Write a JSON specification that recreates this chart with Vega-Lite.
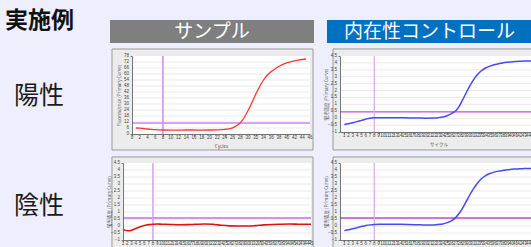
{
  "$schema": "https://vega.github.io/schema/vega-lite/v6.json",
  "background": "#eeeefc",
  "padding": 0,
  "columns": 3,
  "align": "none",
  "bounds": "flush",
  "spacing": 0,
  "datasets": {
    "tl": [
      {"cycle": 1, "value": 6.0}, {"cycle": 2, "value": 5.8}, {"cycle": 3, "value": 5.5}, {"cycle": 4, "value": 5.0},
      {"cycle": 5, "value": 4.6}, {"cycle": 6, "value": 4.3}, {"cycle": 7, "value": 4.1}, {"cycle": 8, "value": 4.0},
      {"cycle": 10, "value": 3.9}, {"cycle": 12, "value": 3.9}, {"cycle": 14, "value": 4.0}, {"cycle": 16, "value": 4.0},
      {"cycle": 18, "value": 3.9}, {"cycle": 20, "value": 4.0}, {"cycle": 22, "value": 4.2}, {"cycle": 24, "value": 4.7},
      {"cycle": 25, "value": 5.2}, {"cycle": 26, "value": 6.2}, {"cycle": 27, "value": 8.2}, {"cycle": 28, "value": 11.3},
      {"cycle": 29, "value": 16.5}, {"cycle": 30, "value": 23.5}, {"cycle": 31, "value": 31.5}, {"cycle": 32, "value": 40.0},
      {"cycle": 33, "value": 47.5}, {"cycle": 34, "value": 54.0}, {"cycle": 35, "value": 59.0}, {"cycle": 36, "value": 62.5},
      {"cycle": 37, "value": 65.3}, {"cycle": 38, "value": 67.8}, {"cycle": 39, "value": 69.7}, {"cycle": 40, "value": 71.1},
      {"cycle": 41, "value": 72.2}, {"cycle": 42, "value": 73.1}, {"cycle": 43, "value": 73.9}, {"cycle": 44, "value": 74.5},
      {"cycle": 45, "value": 75.0}
    ],
    "tr": [
      {"cycle": 1, "value": -0.45}, {"cycle": 2, "value": -0.40}, {"cycle": 3, "value": -0.33}, {"cycle": 4, "value": -0.25},
      {"cycle": 5, "value": -0.16}, {"cycle": 6, "value": -0.07}, {"cycle": 7, "value": 0.0}, {"cycle": 8, "value": 0.03},
      {"cycle": 9, "value": 0.04}, {"cycle": 10, "value": 0.04}, {"cycle": 12, "value": 0.03}, {"cycle": 14, "value": 0.03},
      {"cycle": 16, "value": 0.02}, {"cycle": 18, "value": 0.01}, {"cycle": 20, "value": 0.0}, {"cycle": 22, "value": 0.01},
      {"cycle": 23, "value": 0.04}, {"cycle": 24, "value": 0.09}, {"cycle": 25, "value": 0.18}, {"cycle": 26, "value": 0.33},
      {"cycle": 27, "value": 0.52}, {"cycle": 28, "value": 0.95}, {"cycle": 29, "value": 1.55}, {"cycle": 30, "value": 2.15},
      {"cycle": 31, "value": 2.70}, {"cycle": 32, "value": 3.12}, {"cycle": 33, "value": 3.43}, {"cycle": 34, "value": 3.63},
      {"cycle": 35, "value": 3.77}, {"cycle": 36, "value": 3.87}, {"cycle": 37, "value": 3.94}, {"cycle": 38, "value": 4.0},
      {"cycle": 39, "value": 4.04}, {"cycle": 40, "value": 4.07}, {"cycle": 41, "value": 4.10}, {"cycle": 42, "value": 4.12},
      {"cycle": 43, "value": 4.13}, {"cycle": 44, "value": 4.14}, {"cycle": 45, "value": 4.15}
    ],
    "bl": [
      {"cycle": 1, "value": -0.24}, {"cycle": 2, "value": -0.34}, {"cycle": 3, "value": -0.30}, {"cycle": 4, "value": -0.18},
      {"cycle": 5, "value": -0.05}, {"cycle": 6, "value": 0.04}, {"cycle": 7, "value": 0.10}, {"cycle": 8, "value": 0.13},
      {"cycle": 9, "value": 0.14}, {"cycle": 10, "value": 0.13}, {"cycle": 12, "value": 0.11}, {"cycle": 14, "value": 0.09},
      {"cycle": 16, "value": 0.10}, {"cycle": 18, "value": 0.12}, {"cycle": 20, "value": 0.14}, {"cycle": 22, "value": 0.12},
      {"cycle": 24, "value": 0.05}, {"cycle": 26, "value": 0.01}, {"cycle": 28, "value": 0.0}, {"cycle": 30, "value": 0.0},
      {"cycle": 32, "value": 0.03}, {"cycle": 34, "value": 0.08}, {"cycle": 36, "value": 0.11}, {"cycle": 38, "value": 0.13},
      {"cycle": 40, "value": 0.14}, {"cycle": 42, "value": 0.13}, {"cycle": 44, "value": 0.12}, {"cycle": 45, "value": 0.12}
    ],
    "br": [
      {"cycle": 1, "value": -0.33}, {"cycle": 2, "value": -0.27}, {"cycle": 3, "value": -0.20}, {"cycle": 4, "value": -0.12},
      {"cycle": 5, "value": -0.04}, {"cycle": 6, "value": 0.03}, {"cycle": 7, "value": 0.08}, {"cycle": 8, "value": 0.11},
      {"cycle": 9, "value": 0.12}, {"cycle": 10, "value": 0.12}, {"cycle": 12, "value": 0.12}, {"cycle": 14, "value": 0.12},
      {"cycle": 16, "value": 0.11}, {"cycle": 18, "value": 0.09}, {"cycle": 20, "value": 0.07}, {"cycle": 22, "value": 0.08},
      {"cycle": 23, "value": 0.11}, {"cycle": 24, "value": 0.15}, {"cycle": 25, "value": 0.24}, {"cycle": 26, "value": 0.37},
      {"cycle": 27, "value": 0.60}, {"cycle": 28, "value": 0.98}, {"cycle": 29, "value": 1.48}, {"cycle": 30, "value": 2.05},
      {"cycle": 31, "value": 2.58}, {"cycle": 32, "value": 3.02}, {"cycle": 33, "value": 3.37}, {"cycle": 34, "value": 3.60},
      {"cycle": 35, "value": 3.75}, {"cycle": 36, "value": 3.85}, {"cycle": 37, "value": 3.92}, {"cycle": 38, "value": 3.97},
      {"cycle": 39, "value": 4.01}, {"cycle": 40, "value": 4.05}, {"cycle": 41, "value": 4.07}, {"cycle": 42, "value": 4.09},
      {"cycle": 43, "value": 4.10}, {"cycle": 44, "value": 4.11}, {"cycle": 45, "value": 4.12}
    ],
    "gridA": [{"g": 6}, {"g": 12}, {"g": 18}, {"g": 24}, {"g": 30}, {"g": 36}, {"g": 42}, {"g": 48}, {"g": 54}, {"g": 60}, {"g": 66}, {"g": 72}],
    "gridB": [{"g": -0.5}, {"g": 0}, {"g": 0.5}, {"g": 1}, {"g": 1.5}, {"g": 2}, {"g": 2.5}, {"g": 3}, {"g": 3.5}, {"g": 4}],
    "xTicksTL": [{"v": 0}, {"v": 2}, {"v": 4}, {"v": 6}, {"v": 8}, {"v": 10}, {"v": 12}, {"v": 14}, {"v": 16}, {"v": 18}, {"v": 20}, {"v": 22}, {"v": 24}, {"v": 26}, {"v": 28}, {"v": 30}, {"v": 32}, {"v": 34}, {"v": 36}, {"v": 38}, {"v": 40}, {"v": 42}, {"v": 44}, {"v": 46}],
    "xTicksAll": [{"v": 1}, {"v": 2}, {"v": 3}, {"v": 4}, {"v": 5}, {"v": 6}, {"v": 7}, {"v": 8}, {"v": 9}, {"v": 10}, {"v": 11}, {"v": 12}, {"v": 13}, {"v": 14}, {"v": 15}, {"v": 16}, {"v": 17}, {"v": 18}, {"v": 19}, {"v": 20}, {"v": 21}, {"v": 22}, {"v": 23}, {"v": 24}, {"v": 25}, {"v": 26}, {"v": 27}, {"v": 28}, {"v": 29}, {"v": 30}, {"v": 31}, {"v": 32}, {"v": 33}, {"v": 34}, {"v": 35}, {"v": 36}, {"v": 37}, {"v": 38}, {"v": 39}, {"v": 40}, {"v": 41}, {"v": 42}, {"v": 43}, {"v": 44}, {"v": 45}],
    "yTicksTL": [{"v": 0}, {"v": 6}, {"v": 12}, {"v": 18}, {"v": 24}, {"v": 30}, {"v": 36}, {"v": 42}, {"v": 48}, {"v": 54}, {"v": 60}, {"v": 66}, {"v": 72}, {"v": 78}],
    "yTicksB": [{"v": -1}, {"v": -0.5}, {"v": 0}, {"v": 0.5}, {"v": 1}, {"v": 1.5}, {"v": 2}, {"v": 2.5}, {"v": 3}, {"v": 3.5}, {"v": 4}, {"v": 4.5}]
  },
  "concat": [
    {"width": 79, "height": 20, "data": {"values": [{"t": "実施例"}]}, "mark": {"type": "text", "fontSize": 23, "fontWeight": "bold", "color": "#111111", "baseline": "top"}, "encoding": {"text": {"field": "t"}}},
    {"width": 1, "height": 20, "data": {"values": []}, "mark": {"type": "point", "opacity": 0}},
    {"width": 1, "height": 20, "data": {"values": []}, "mark": {"type": "point", "opacity": 0}},

    {"width": 110, "height": 1, "data": {"values": []}, "mark": {"type": "point", "opacity": 0}},
    {"width": 204, "height": 23, "view": {"fill": "#7f7f7f", "stroke": null}, "data": {"values": [{"t": "サンプル"}]}, "mark": {"type": "text", "fontSize": 19, "color": "#ffffff"}, "encoding": {"text": {"field": "t"}}},
    {"width": 205, "height": 23, "view": {"fill": "#0070c0", "stroke": null}, "data": {"values": [{"t": "内在性コントロール"}]}, "mark": {"type": "text", "fontSize": 19, "color": "#ffffff"}, "encoding": {"text": {"field": "t"}}},

    {"width": 1, "height": 13, "data": {"values": []}, "mark": {"type": "point", "opacity": 0}},
    {"width": 217, "height": 13, "data": {"values": []}, "mark": {"type": "point", "opacity": 0}},
    {"width": 1, "height": 13, "data": {"values": []}, "mark": {"type": "point", "opacity": 0}},

    {"width": 78, "height": 80, "data": {"values": [{"t": "陽性"}]}, "mark": {"type": "text", "fontSize": 25, "color": "#1a1a1a"}, "encoding": {"text": {"field": "t"}}},
    {
      "width": 217, "height": 78,
      "layer": [
        {"data": {"values": [{}]}, "mark": {"type": "rect", "fill": "#ececec", "stroke": "#9a9a9a", "strokeWidth": 1, "clip": false},
         "encoding": {
           "x": {"datum": -5.17, "type": "quantitative", "scale": {"domain": [0, 46], "range": [22, 200], "nice": false, "zero": false},
                 "axis": {"values": [0,2,4,6,8,10,12,14,16,18,20,22,24,26,28,30,32,34,36,38,40,42,44,46], "labels": false, "title": "Cycles", "titlePadding": 7, "zindex": 1, "grid": false}},
           "x2": {"datum": 46.78},
           "y": {"datum": 85, "type": "quantitative", "scale": {"domain": [0, 78], "nice": false, "zero": false},
                 "axis": {"values": [0,3,6,9,12,15,18,21,24,27,30,33,36,39,42,45,48,51,54,57,60,63,66,69,72,75,78], "labels": false, "title": "Fluorescence (Primary Curve)", "titlePadding": 8, "offset": -22, "zindex": 1, "grid": false}},
           "y2": {"datum": -16}}},
        {"data": {"values": [{}]}, "mark": {"type": "rect", "fill": "#ffffff"},
         "encoding": {"x": {"datum": 0, "type": "quantitative"}, "x2": {"datum": 46}, "y": {"datum": 0, "type": "quantitative"}, "y2": {"datum": 78}}},
        {"data": {"name": "gridA"}, "mark": {"type": "rule", "color": "#e4e4e4", "strokeWidth": 0.8}, "encoding": {"x": {"datum": 0, "type": "quantitative"}, "x2": {"datum": 46}, "y": {"field": "g", "type": "quantitative"}}},
        {"data": {"name": "xTicksTL"}, "mark": {"type": "text", "fontSize": 4.5, "color": "#444444", "font": "Liberation Sans", "clip": false, "baseline": "middle", "align": "center"},
         "encoding": {"x": {"field": "v", "type": "quantitative"}, "y": {"datum": -4, "type": "quantitative"}, "text": {"field": "v", "type": "quantitative", "format": "~g"}}},
        {"data": {"name": "yTicksTL"}, "mark": {"type": "text", "fontSize": 4.5, "color": "#444444", "font": "Liberation Sans", "clip": false, "baseline": "middle", "align": "right"},
         "encoding": {"x": {"datum": -0.8, "type": "quantitative"}, "y": {"field": "v", "type": "quantitative"}, "text": {"field": "v", "type": "quantitative", "format": "~g"}}},
        {"data": {"values": [{}]}, "mark": {"type": "rule", "color": "#d8a4f2", "strokeWidth": 2}, "encoding": {"x": {"datum": 0, "type": "quantitative"}, "x2": {"datum": 46}, "y": {"datum": 11, "type": "quantitative"}}},
        {"data": {"values": [{}]}, "mark": {"type": "rule", "color": "#cc8cec", "strokeWidth": 1.5}, "encoding": {"x": {"datum": 8, "type": "quantitative"}}},
        {"data": {"name": "tl"}, "mark": {"type": "line", "color": "#ff3535", "strokeWidth": 1.3, "interpolate": "monotone"},
         "encoding": {"x": {"field": "cycle", "type": "quantitative"}, "y": {"field": "value", "type": "quantitative"}}}
      ]
    },
    {
      "width": 210, "height": 76,
      "layer": [
        {"data": {"values": [{}]}, "mark": {"type": "rect", "fill": "#ececec", "stroke": "#9a9a9a", "strokeWidth": 1, "clip": false},
         "encoding": {
           "x": {"datum": -1.63, "type": "quantitative", "scale": {"domain": [0, 46], "range": [13, 210], "nice": false, "zero": false},
                 "axis": {"values": [1,2,3,4,5,6,7,8,9,10,11,12,13,14,15,16,17,18,19,20,21,22,23,24,25,26,27,28,29,30,31,32,33,34,35,36,37,38,39,40,41,42,43,44,45,46], "labels": false, "title": "サイクル", "titlePadding": 7, "zindex": 1, "grid": false}},
           "x2": {"datum": 47.9},
           "y": {"datum": 5.01, "type": "quantitative", "scale": {"domain": [-1, 4.5], "nice": false, "zero": false},
                 "axis": {"values": [-1,-0.75,-0.5,-0.25,0,0.25,0.5,0.75,1,1.25,1.5,1.75,2,2.25,2.5,2.75,3,3.25,3.5,3.75,4,4.25,4.5], "labels": false, "title": "蛍光強度 (Primary Curve)", "titlePadding": 9, "offset": -13, "zindex": 1, "grid": false}},
           "y2": {"datum": -2.3}}},
        {"data": {"values": [{}]}, "mark": {"type": "rect", "fill": "#ffffff"},
         "encoding": {"x": {"datum": 0, "type": "quantitative"}, "x2": {"datum": 46}, "y": {"datum": -1, "type": "quantitative"}, "y2": {"datum": 4.5}}},
        {"data": {"name": "gridB"}, "mark": {"type": "rule", "color": "#e4e4e4", "strokeWidth": 0.8}, "encoding": {"x": {"datum": 0, "type": "quantitative"}, "x2": {"datum": 46}, "y": {"field": "g", "type": "quantitative"}}},
        {"data": {"name": "xTicksAll"}, "mark": {"type": "text", "fontSize": 4.5, "color": "#444444", "font": "Liberation Sans", "clip": false, "baseline": "middle", "align": "center"},
         "encoding": {"x": {"field": "v", "type": "quantitative"}, "y": {"datum": -1.29, "type": "quantitative"}, "text": {"field": "v", "type": "quantitative", "format": "~g"}}},
        {"data": {"name": "yTicksB"}, "mark": {"type": "text", "fontSize": 4.5, "color": "#444444", "font": "Liberation Sans", "clip": false, "baseline": "middle", "align": "right"},
         "encoding": {"x": {"datum": -0.7, "type": "quantitative"}, "y": {"field": "v", "type": "quantitative"}, "text": {"field": "v", "type": "quantitative", "format": "~g"}}},
        {"data": {"values": [{}]}, "mark": {"type": "rule", "color": "#c850d6", "strokeWidth": 1.2}, "encoding": {"x": {"datum": 0, "type": "quantitative"}, "x2": {"datum": 46}, "y": {"datum": 0.45, "type": "quantitative"}}},
        {"data": {"values": [{}]}, "mark": {"type": "rule", "color": "#d8a8ec", "strokeWidth": 1.2}, "encoding": {"x": {"datum": 8, "type": "quantitative"}}},
        {"data": {"name": "tr"}, "mark": {"type": "line", "color": "#4848f8", "strokeWidth": 1.5, "interpolate": "monotone"},
         "encoding": {"x": {"field": "cycle", "type": "quantitative"}, "y": {"field": "value", "type": "quantitative"}}}
      ]
    },

    {"width": 1, "height": 27, "data": {"values": []}, "mark": {"type": "point", "opacity": 0}},
    {"width": 1, "height": 27, "data": {"values": []}, "mark": {"type": "point", "opacity": 0}},
    {"width": 1, "height": 27, "data": {"values": []}, "mark": {"type": "point", "opacity": 0}},

    {"width": 78, "height": 86, "data": {"values": [{"t": "陰性"}]}, "mark": {"type": "text", "fontSize": 25, "color": "#1a1a1a"}, "encoding": {"text": {"field": "t"}}},
    {
      "width": 217, "height": 77,
      "layer": [
        {"data": {"values": [{}]}, "mark": {"type": "rect", "fill": "#ececec", "stroke": "#9a9a9a", "strokeWidth": 1, "clip": false},
         "encoding": {
           "x": {"datum": -1.58, "type": "quantitative", "scale": {"domain": [1, 45], "range": [13, 201], "nice": false, "zero": false},
                 "axis": {"values": [1,2,3,4,5,6,7,8,9,10,11,12,13,14,15,16,17,18,19,20,21,22,23,24,25,26,27,28,29,30,31,32,33,34,35,36,37,38,39,40,41,42,43,44,45], "labels": false, "title": "サイクル", "titlePadding": 7, "zindex": 1, "grid": false}},
           "x2": {"datum": 45.47},
           "y": {"datum": 4.93, "type": "quantitative", "scale": {"domain": [-1, 4.5], "nice": false, "zero": false},
                 "axis": {"values": [-1,-0.75,-0.5,-0.25,0,0.25,0.5,0.75,1,1.25,1.5,1.75,2,2.25,2.5,2.75,3,3.25,3.5,3.75,4,4.25,4.5], "labels": false, "title": "蛍光強度 (Primary Curve)", "titlePadding": 9, "offset": -13, "zindex": 1, "grid": false}},
           "y2": {"datum": -2.29}}},
        {"data": {"values": [{}]}, "mark": {"type": "rect", "fill": "#ffffff"},
         "encoding": {"x": {"datum": 1, "type": "quantitative"}, "x2": {"datum": 45}, "y": {"datum": -1, "type": "quantitative"}, "y2": {"datum": 4.5}}},
        {"data": {"name": "gridB"}, "mark": {"type": "rule", "color": "#e4e4e4", "strokeWidth": 0.8}, "encoding": {"x": {"datum": 1, "type": "quantitative"}, "x2": {"datum": 45}, "y": {"field": "g", "type": "quantitative"}}},
        {"data": {"name": "xTicksAll"}, "mark": {"type": "text", "fontSize": 4.5, "color": "#444444", "font": "Liberation Sans", "clip": false, "baseline": "middle", "align": "center"},
         "encoding": {"x": {"field": "v", "type": "quantitative"}, "y": {"datum": -1.27, "type": "quantitative"}, "text": {"field": "v", "type": "quantitative", "format": "~g"}}},
        {"data": {"name": "yTicksB"}, "mark": {"type": "text", "fontSize": 4.5, "color": "#444444", "font": "Liberation Sans", "clip": false, "baseline": "middle", "align": "right"},
         "encoding": {"x": {"datum": 0.3, "type": "quantitative"}, "y": {"field": "v", "type": "quantitative"}, "text": {"field": "v", "type": "quantitative", "format": "~g"}}},
        {"data": {"values": [{}]}, "mark": {"type": "rule", "color": "#c070e2", "strokeWidth": 1.5}, "encoding": {"x": {"datum": 1, "type": "quantitative"}, "x2": {"datum": 45}, "y": {"datum": 0.57, "type": "quantitative"}}},
        {"data": {"values": [{}]}, "mark": {"type": "rule", "color": "#d4a2f0", "strokeWidth": 1.5}, "encoding": {"x": {"datum": 8, "type": "quantitative"}}},
        {"data": {"name": "bl"}, "mark": {"type": "line", "color": "#e01010", "strokeWidth": 1.6, "interpolate": "monotone"},
         "encoding": {"x": {"field": "cycle", "type": "quantitative"}, "y": {"field": "value", "type": "quantitative"}}}
      ]
    },
    {
      "width": 210, "height": 77,
      "layer": [
        {"data": {"values": [{}]}, "mark": {"type": "rect", "fill": "#ececec", "stroke": "#9a9a9a", "strokeWidth": 1, "clip": false},
         "encoding": {
           "x": {"datum": -1.63, "type": "quantitative", "scale": {"domain": [0, 46], "range": [13, 210], "nice": false, "zero": false},
                 "axis": {"values": [1,2,3,4,5,6,7,8,9,10,11,12,13,14,15,16,17,18,19,20,21,22,23,24,25,26,27,28,29,30,31,32,33,34,35,36,37,38,39,40,41,42,43,44,45,46], "labels": false, "title": "サイクル", "titlePadding": 7, "zindex": 1, "grid": false}},
           "x2": {"datum": 47.9},
           "y": {"datum": 4.93, "type": "quantitative", "scale": {"domain": [-1, 4.5], "nice": false, "zero": false},
                 "axis": {"values": [-1,-0.75,-0.5,-0.25,0,0.25,0.5,0.75,1,1.25,1.5,1.75,2,2.25,2.5,2.75,3,3.25,3.5,3.75,4,4.25,4.5], "labels": false, "title": "蛍光強度 (Primary Curve)", "titlePadding": 9, "offset": -13, "zindex": 1, "grid": false}},
           "y2": {"datum": -2.29}}},
        {"data": {"values": [{}]}, "mark": {"type": "rect", "fill": "#ffffff"},
         "encoding": {"x": {"datum": 0, "type": "quantitative"}, "x2": {"datum": 46}, "y": {"datum": -1, "type": "quantitative"}, "y2": {"datum": 4.5}}},
        {"data": {"name": "gridB"}, "mark": {"type": "rule", "color": "#e4e4e4", "strokeWidth": 0.8}, "encoding": {"x": {"datum": 0, "type": "quantitative"}, "x2": {"datum": 46}, "y": {"field": "g", "type": "quantitative"}}},
        {"data": {"name": "xTicksAll"}, "mark": {"type": "text", "fontSize": 4.5, "color": "#444444", "font": "Liberation Sans", "clip": false, "baseline": "middle", "align": "center"},
         "encoding": {"x": {"field": "v", "type": "quantitative"}, "y": {"datum": -1.27, "type": "quantitative"}, "text": {"field": "v", "type": "quantitative", "format": "~g"}}},
        {"data": {"name": "yTicksB"}, "mark": {"type": "text", "fontSize": 4.5, "color": "#444444", "font": "Liberation Sans", "clip": false, "baseline": "middle", "align": "right"},
         "encoding": {"x": {"datum": -0.7, "type": "quantitative"}, "y": {"field": "v", "type": "quantitative"}, "text": {"field": "v", "type": "quantitative", "format": "~g"}}},
        {"data": {"values": [{}]}, "mark": {"type": "rule", "color": "#c048d2", "strokeWidth": 1.3}, "encoding": {"x": {"datum": 0, "type": "quantitative"}, "x2": {"datum": 46}, "y": {"datum": 0.57, "type": "quantitative"}}},
        {"data": {"values": [{}]}, "mark": {"type": "rule", "color": "#d8a8ec", "strokeWidth": 1.2}, "encoding": {"x": {"datum": 8, "type": "quantitative"}}},
        {"data": {"name": "br"}, "mark": {"type": "line", "color": "#4848f8", "strokeWidth": 1.5, "interpolate": "monotone"},
         "encoding": {"x": {"field": "cycle", "type": "quantitative"}, "y": {"field": "value", "type": "quantitative"}}}
      ]
    }
  ],
  "config": {
    "font": "Noto Sans CJK JP",
    "view": {"stroke": null},
    "concat": {"spacing": 0},
    "axis": {
      "tickSize": 2, "tickColor": "#555555", "tickWidth": 0.7,
      "domainColor": "#555555", "domainWidth": 0.8,
      "titleFontSize": 4.5, "titleFontWeight": "normal", "titleColor": "#555555", "titleFont": "Noto Sans CJK JP"
    }
  }
}
